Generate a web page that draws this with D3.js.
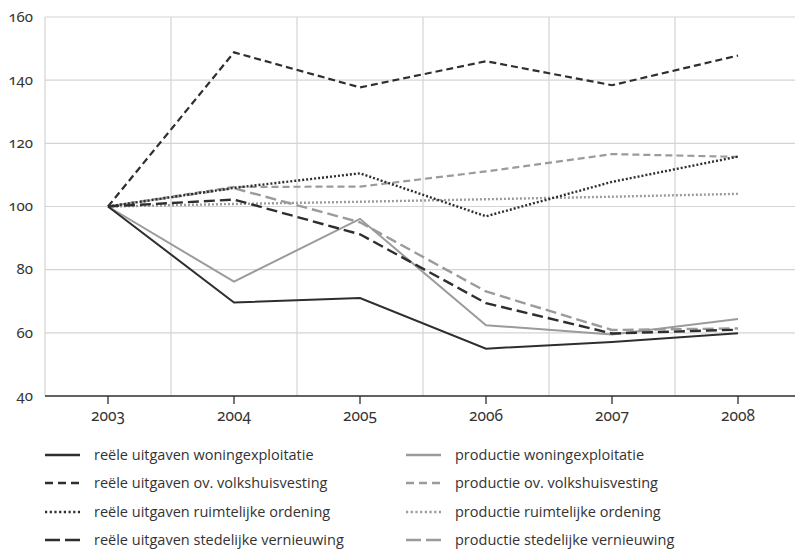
<!DOCTYPE html>
<html>
<head>
<meta charset="utf-8">
<script src="https://cdn.jsdelivr.net/npm/d3@7"></script>
<style>
  html, body { margin: 0; padding: 0; background: #fff; }
  svg text { font-family: "Open Sans", "Noto Sans", sans-serif; fill: #333; }
  svg text.num { font-family: "Noto Sans", "Open Sans", sans-serif; font-variant-numeric: oldstyle-nums; font-feature-settings: "onum" 1; }
</style>
</head>
<body>
<svg id="chart" width="795" height="551"></svg>
<script>
const years = ["2003", "2004", "2005", "2006", "2007", "2008"];
const yTicks = [40, 60, 80, 100, 120, 140, 160];

const reeleWoningexploitatie = [100, 69.6, 71.0, 55.0, 57.1, 59.9];
const reeleVolkshuisvesting = [100, 148.8, 137.7, 146.0, 138.4, 147.8];
const reeleRuimtelijkeOrdening = [100, 105.9, 110.5, 96.9, 107.8, 115.8];
const reeleStedelijkeVernieuwing = [100, 102.2, 91.2, 69.4, 59.8, 61.0];
const productieWoningexploitatie = [100, 76.2, 96.1, 62.4, 59.5, 64.4];
const productieVolkshuisvesting = [100, 106.2, 106.3, 111.1, 116.6, 115.7];
const productieRuimtelijkeOrdening = [100, 100.8, 101.5, 102.3, 103.1, 104.0];
const productieStedelijkeVernieuwing = [100, 105.8, 95.0, 73.1, 60.9, 61.4];

const seriesNames = [
  "reële uitgaven woningexploitatie",
  "reële uitgaven ov. volkshuisvesting",
  "reële uitgaven ruimtelijke ordening",
  "reële uitgaven stedelijke vernieuwing",
  "productie woningexploitatie",
  "productie ov. volkshuisvesting",
  "productie ruimtelijke ordening",
  "productie stedelijke vernieuwing"
];
const seriesValues = [
  reeleWoningexploitatie, reeleVolkshuisvesting, reeleRuimtelijkeOrdening, reeleStedelijkeVernieuwing,
  productieWoningexploitatie, productieVolkshuisvesting, productieRuimtelijkeOrdening, productieStedelijkeVernieuwing
];

const DARK = "#2e2e2e", GRAY = "#9b9b9b";
const styles = [
  {color: DARK, dash: null, ldash: null, w: 2},
  {color: DARK, dash: "7,4", ldash: "8,5", w: 2.2},
  {color: DARK, dash: "2,2", ldash: "2.2,2.5", w: 2.4},
  {color: DARK, dash: "11,5", ldash: "15,5", w: 2.4},
  {color: GRAY, dash: null, ldash: null, w: 2},
  {color: GRAY, dash: "7,4", ldash: "8,5", w: 2.2},
  {color: GRAY, dash: "2,2", ldash: "2.2,2.5", w: 2.4},
  {color: GRAY, dash: "11,5", ldash: "15,5", w: 2.4}
];

const svg = d3.select("#chart");
const mLeft = 45, mRight = 801, mTop = 17, mBottom = 396;

const x = d3.scaleBand().domain(years).range([mLeft, mRight]).padding(0);
const y = d3.scaleLinear().domain([40, 160]).range([mBottom, mTop]);

// horizontal gridlines
svg.append("g").selectAll("line").data(yTicks.filter(d => d > 40)).join("line")
  .attr("x1", mLeft).attr("x2", 795).attr("y1", d => y(d)).attr("y2", d => y(d))
  .attr("stroke", "#d4d4d4").attr("stroke-width", 1.2);

// vertical gridlines at band edges
svg.append("g").selectAll("line").data(years).join("line")
  .attr("x1", d => x(d)).attr("x2", d => x(d)).attr("y1", mTop).attr("y2", mBottom)
  .attr("stroke", "#d4d4d4").attr("stroke-width", 1.2);

// y labels
svg.append("g").selectAll("text").data(yTicks).join("text")
  .attr("class", "num")
  .attr("x", 33).attr("y", d => y(d)).attr("dy", "0.32em")
  .attr("text-anchor", "end").attr("font-size", 15).text(d => d);

// x axis
const xAxis = d3.axisBottom(x).tickSize(8).tickPadding(6).tickSizeOuter(0);
const gx = svg.append("g").attr("transform", `translate(0,${mBottom})`).call(xAxis);
gx.attr("font-family", null).attr("font-size", null);
gx.select(".domain").attr("stroke", DARK).attr("stroke-width", 1.5).attr("d", `M${mLeft},0H795`);
gx.selectAll(".tick line").attr("stroke", DARK).attr("stroke-width", 1.3);
gx.selectAll(".tick text").attr("class", "num").attr("font-size", 15.5).attr("fill", "#333");

// lines
const line = d3.line().x((d, i) => x(years[i]) + x.bandwidth() / 2).y(d => y(d));
const order = [4, 5, 6, 7, 0, 1, 2, 3];
order.forEach(i => {
  const s = styles[i];
  svg.append("path").datum(seriesValues[i])
    .attr("d", line).attr("fill", "none")
    .attr("stroke", s.color).attr("stroke-width", s.w)
    .attr("stroke-dasharray", s.dash)
    .attr("stroke-linejoin", "miter");
});

// legend
const rowsY = [455, 483, 512, 540];
const colX = [45, 406];
seriesNames.forEach((name, i) => {
  const col = Math.floor(i / 4), row = i % 4;
  const s = styles[i];
  const g = svg.append("g").attr("transform", `translate(${colX[col]},${rowsY[row]})`);
  g.append("line").attr("x1", 0).attr("x2", 35).attr("y1", 0).attr("y2", 0)
    .attr("stroke", s.color).attr("stroke-width", s.w + 0.3)
    .attr("stroke-dasharray", s.ldash);
  g.append("text").attr("x", 49).attr("y", 0).attr("dy", "0.32em")
    .attr("font-size", 14.5).text(name);
});
</script>
</body>
</html>
